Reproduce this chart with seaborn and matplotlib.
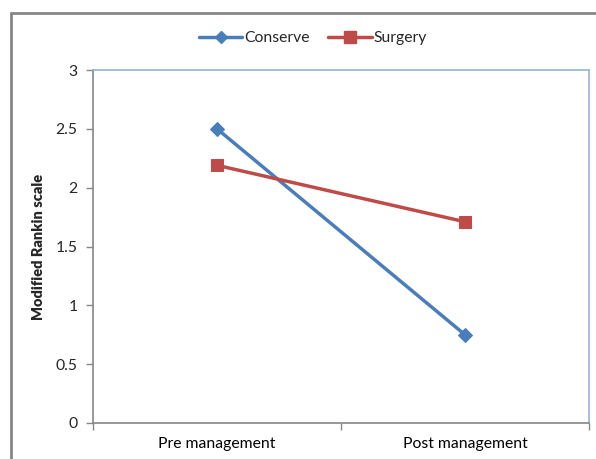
import matplotlib
matplotlib.use("Agg")
import matplotlib.pyplot as plt
import seaborn as sns
import pandas as pd
from matplotlib.lines import Line2D

stages = ["Pre management", "Post management"]
conserve = [2.50, 0.75]
surgery = [2.19, 1.71]
y_ticks = [0, 0.5, 1, 1.5, 2, 2.5, 3]
y_tick_labels = ["0", "0.5", "1", "1.5", "2", "2.5", "3"]

sns.set_style("white")
plt.rcParams['font.family'] = ['Lato', 'DejaVu Sans']

df = pd.DataFrame({
    "stage": stages * 2,
    "value": conserve + surgery,
    "group": ["Conserve"] * 2 + ["Surgery"] * 2,
})

fig = plt.figure(figsize=(5.96, 4.59), dpi=100)
ax = fig.add_axes([93/596, 1-423/459, (589-93)/596, (423-70)/459])

colors = {"Conserve": "#4A7EBB", "Surgery": "#BE4B48"}
markers = {"Conserve": "D", "Surgery": "s"}
sizes = {"Conserve": 7, "Surgery": 9}
for g in ["Conserve", "Surgery"]:
    sub = df[df.group == g]
    sns.lineplot(data=sub, x="stage", y="value", ax=ax, color=colors[g],
                 marker=markers[g], markersize=sizes[g], markeredgecolor=colors[g],
                 linewidth=2.5, label=g, legend=False, sort=False)

ax.set_xlim(-0.5, 1.5)
ax.set_ylim(0, 3)
ax.set_xticks([-0.5, 0.5, 1.5])
ax.set_xticklabels([])
ax.set_xticks([0, 1], minor=True)
ax.set_xticklabels(stages, minor=True)
ax.tick_params(axis="x", which="major", length=5, width=1, color="#868686", direction="out", bottom=True)
ax.tick_params(axis="x", which="minor", length=0, pad=10, labelsize=11.3, labelcolor="#000000")
ax.set_yticks(y_ticks)
ax.set_yticklabels(y_tick_labels)
ax.tick_params(axis="y", length=5, width=1, color="#868686", direction="out", left=True, labelsize=11.3, pad=6)
ax.set_xlabel("")
ax.set_ylabel("Modified Rankin scale", fontsize=10.5, fontweight="heavy", labelpad=8)

for s in ["left", "bottom"]:
    ax.spines[s].set_color("#868686")
    ax.spines[s].set_linewidth(1.2)
for s in ["top", "right"]:
    ax.spines[s].set_color("#95B3D7")
    ax.spines[s].set_linewidth(1.2)
ax.grid(False)

handles = [Line2D([], [], color=colors[g], marker=markers[g], markersize=sizes[g]-1,
                  linewidth=2.5, markeredgecolor=colors[g]) for g in ["Conserve", "Surgery"]]
fig.legend(handles, ["Conserve", "Surgery"], loc="center", bbox_to_anchor=(0.525, 1-38/459),
           ncol=2, frameon=False, fontsize=11.3, handlelength=2.8, handletextpad=0.1,
           columnspacing=1.2)

# outer chart frame
fx = 11/596
fy = 1-13/459
fig.add_artist(Line2D([fx, fx], [fy, -0.05], transform=fig.transFigure, color="#868686", linewidth=2))
fig.add_artist(Line2D([fx, 1.05], [fy, fy], transform=fig.transFigure, color="#868686", linewidth=2))

fig.savefig("out.png", dpi=100)
